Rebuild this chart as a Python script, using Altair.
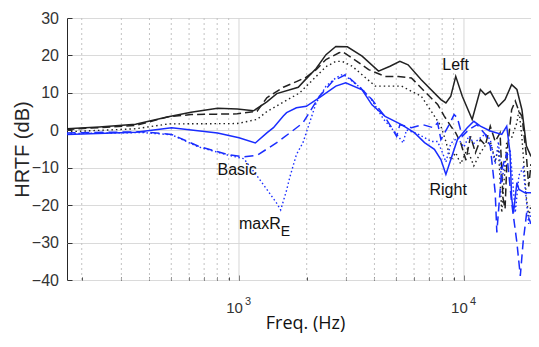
import altair as alt
import pandas as pd

# ---------------- data ----------------
left_solid_f = [171, 239, 347, 485, 612, 803, 983, 1160, 1330, 1472, 1834, 1992, 2203, 2436, 2695, 3032,
                3526, 4171, 4692, 5190, 5645, 6459, 7897, 8312, 8740, 9193, 9830, 10876, 11830, 12445,
                13090, 14235, 15230, 16290, 17190, 18100, 18950, 19860]
left_solid_db = [0.4, 0.9, 1.6, 3.6, 4.8, 5.9, 5.7, 5.2, 7.6, 9.8, 11.5, 13.8, 16.5, 20.2, 22.4, 22.3,
                 19.8, 15.8, 17.1, 18.4, 17.5, 13.5, 8.2, 7.3, 9.1, 14.4, 9.1, 2.9, 10.9, 9.5,
                 10.4, 6.4, 8.2, 12.2, 10.9, 5.5, -4.2, -7.0]

left_dashed_f = [171, 347, 485, 612, 983, 1203, 1330, 1574, 1800, 1992, 2203, 2436, 2785, 2880, 3188,
                 3770, 4462, 5104, 5839, 6680, 7638, 8173, 8740, 9193, 9667, 10200, 10695, 11250,
                 11830, 12445, 13090, 13770, 14470, 14900, 15230, 15600, 16290, 16910, 17560, 18100,
                 18950, 19400, 19860]
left_dashed_db = [0.2, 1.3, 3.6, 4.2, 4.4, 5.1, 8.7, 11.5, 13.0, 14.2, 16.2, 18.9, 20.7, 21.0, 19.3,
                  16.2, 14.4, 14.4, 14.0, 10.4, 6.9, 3.8, 1.1, -0.7, -3.3, -8.0, -1.6, -6.0,
                  -2.5, -4.0, 1.1, -3.0, -0.7, -18.0, -21.0, -5.0, 5.5, 7.8, 5.0, 3.8,
                  -6.9, -15.0, -9.0]

left_dotted_f = [171, 347, 485, 983, 1203, 1330, 1861, 2436, 2695, 2880, 3188, 4034, 5277, 6459, 7389,
                 7897, 8312, 8740, 9193, 9667, 10340, 11060, 11830, 12445, 13090, 13770, 14235, 14720,
                 15230, 15490, 16290, 17190, 17560, 18100, 18950, 19400, 19860]
left_dotted_db = [-0.4, 0.4, 1.7, 1.8, 2.9, 5.0, 10.0, 17.0, 18.4, 18.4, 17.1, 11.8, 11.8, 9.1, 3.8,
                  1.1, -3.0, -8.0, -6.0, -9.0, -5.0, -9.5, -6.0, -4.0, -3.0, -8.0, -5.0, -22.0,
                  -10.0, -3.0, -2.0, 2.0, 5.5, -2.0, -18.0, -23.0, -20.0]

right_solid_f = [171, 347, 502, 803, 1000, 1182, 1330, 1423, 1574, 1628, 1800, 1992, 2277, 2695, 2981,
                 3526, 3900, 4462, 5277, 6039, 6680, 7389, 7897, 8312, 8740, 9350, 10340, 11060,
                 11830, 13090, 14720, 15490, 16020, 16290, 16600, 17190, 17560, 18660, 19860]
right_solid_db = [-1.1, -0.5, 0.7, -0.7, -2.0, -3.4, -0.7, 0.7, 3.8, 4.7, 6.0, 6.4, 8.7, 11.8, 12.7,
                  10.8, 6.8, 3.7, 1.5, -0.7, -3.3, -5.1, -7.8, -11.8, -7.8, -2.5, 0.7, 2.4,
                  1.1, -0.2, -1.1, 1.1, -6.0, -18.0, -22.0, -14.0, -15.8, -16.7, -16.7]

right_dashed_f = [171, 371, 502, 657, 889, 1052, 1203, 1472, 1683, 1925, 2277, 2608, 2880, 2981, 3526,
                  3900, 4387, 4770, 5020, 5190, 5839, 6565, 7288, 7638, 7897, 8596, 9040, 9350, 9830,
                  10518, 11437, 12445, 13090, 13770, 14000, 14720, 15490, 16290, 17190, 17800, 18315,
                  19000, 19860]
right_dashed_db = [-0.7, -0.4, -1.1, -4.2, -6.5, -7.1, -6.7, -3.3, -0.7, 2.0, 9.1, 13.1, 14.4, 14.9, 10.9,
                   8.2, 4.2, 0.7, -1.6, 1.5, 0.7, 1.5, 0.7, 2.0, -2.5, 1.5, 4.2, 3.3, -1.6,
                   0.2, 1.5, -1.1, -4.2, -16.7, -27.3, -10.5, -6.0, -19.3, -30.0, -38.9, -30.0,
                   -22.0, -25.0]

right_dotted_f = [171, 371, 502, 657, 889, 1052, 1203, 1330, 1472, 1532, 1628, 1683, 1800, 1925, 2203,
                  2436, 2695, 2880, 2981, 3526, 3900, 4387, 4614, 5020, 5366, 5550, 6245, 7166, 7638,
                  8030, 8312, 8740, 9350, 10000, 10518, 11060, 11830, 12445, 13090, 13770, 14235,
                  14720, 15230, 16020, 16910, 17560, 18315, 19400, 19860]
right_dotted_db = [-0.9, -0.6, -1.2, -4.4, -6.6, -7.6, -12.2, -15.8, -19.5, -21.3, -16.0, -12.5, -6.5, -3.3, 7.3,
                   11.8, 14.0, 14.9, 14.5, 11.0, 8.0, 3.0, 1.5, -1.0, -3.4, 0.1, -1.0, -3.0, -3.0,
                   -6.0, -8.5, -3.5, -2.0, -4.5, -1.5, -3.5, -2.0, -1.0, -2.5, -9.0, -3.0,
                   -14.0, -8.0, -5.0, -22.0, -12.0, -10.0, -25.0, -22.0]

minor_ticks = [200, 300, 400, 500, 600, 700, 800, 900, 2000, 3000, 4000, 5000, 6000, 7000, 8000, 9000]
major_ticks = [1000, 10000]
y_ticks = [-40, -30, -20, -10, 0, 10, 20, 30]

ann_text = ["Left", "Right", "Basic", "maxR"]
ann_f = [8010, 7026, 803, 1000]
ann_db = [16.0, -17.2, -12.0, -26.5]
sub_text = ["E"]
sub_f = [1532]
sub_db = [-28.2]

# ---------------- chart ----------------
xscale = alt.Scale(type="log", domain=[172, 19860], nice=False)
yscale = alt.Scale(domain=[-40, 30], nice=False, zero=False)

BLACK = "#222222"
BLUE = "#1a2dff"


def series(fs, dbs, color, dash=None, width=1.4):
    df = pd.DataFrame({"f": fs, "db": dbs})
    kw = dict(color=color, strokeWidth=width, clip=True)
    if dash:
        kw["strokeDash"] = dash
    return alt.Chart(df).mark_line(**kw).encode(
        x=alt.X("f:Q", scale=xscale, axis=None),
        y=alt.Y("db:Q", scale=yscale, axis=None),
    )


minor_grid = alt.Chart(pd.DataFrame({"f": minor_ticks})).mark_rule(
    color="#c2c2c2", strokeWidth=1, strokeDash=[2, 3]
).encode(
    x=alt.X("f:Q", scale=xscale,
            axis=alt.Axis(values=minor_ticks, orient="bottom", offset=-3, tickSize=3,
                          ticks=True, tickColor="#333333", labels=False, domain=False,
                          grid=False, title=None))
)

major_grid = alt.Chart(pd.DataFrame({"f": major_ticks})).mark_rule(
    color="#d6d6d6", strokeWidth=1
).encode(
    x=alt.X("f:Q", scale=xscale,
            axis=alt.Axis(values=major_ticks, orient="bottom", offset=-5, tickSize=5,
                          ticks=True, tickColor="#333333", labels=False, domain=False,
                          grid=False, title=None))
)

axes_df = pd.DataFrame({"f": major_ticks, "db": [-40, 30]})
main_axes = alt.Chart(axes_df).mark_point(opacity=0).encode(
    x=alt.X("f:Q", scale=xscale,
            axis=alt.Axis(values=major_ticks, orient="bottom", labelExpr="'10'",
                          labelFont="Liberation Sans",
                          labelFontSize=15, labelColor="#333333", labelPadding=20, labelOffset=-5,
                          labelBaseline="top", ticks=False, tickSize=0, domain=False, grid=False,
                          title="Freq. (Hz)", titleFont="Open Sans", titleFontSize=18,
                          titleFontWeight="normal", titleColor="#111111", titleX=238, titleY=48,
                          titleAlign="center", titleBaseline="alphabetic")),
    y=alt.Y("db:Q", scale=yscale,
            axis=alt.Axis(values=y_ticks, orient="left", labelFont="Liberation Sans",
                          labelFontSize=16,
                          labelColor="#333333", labelPadding=8.5, ticks=False, tickSize=0,
                          domain=False, grid=True, gridColor="#dadada", gridWidth=1,
                          title="HRTF (dB)", titleFont="Liberation Sans", titleFontSize=20,
                          titleFontWeight="normal", titleColor="#262626", titleAngle=270,
                          titleX=-45, titleY=131, titleAlign="center", titleBaseline="middle")),
)

sup_axes = alt.Chart(axes_df).mark_point(opacity=0).encode(
    x=alt.X("f:Q", scale=xscale,
            axis=alt.Axis(values=major_ticks, orient="bottom",
                          labelExpr="datum.value < 5000 ? '3' : '4'",
                          labelFont="Liberation Sans", labelFontSize=11, labelColor="#333333",
                          labelPadding=15, labelOffset=8.5, labelBaseline="top", ticks=False,
                          tickSize=0, domain=False, grid=False, title=None)),
    y=alt.Y("db:Q", scale=yscale,
            axis=alt.Axis(values=y_ticks, orient="left", offset=-5, tickSize=5, ticks=True,
                          tickColor="#333333", labels=False, domain=False, grid=False, title=None)),
)

ann = alt.Chart(pd.DataFrame({"t": ann_text, "f": ann_f, "db": ann_db})).mark_text(
    align="left", baseline="alphabetic", font="Liberation Sans", fontSize=16, color="#111111"
).encode(
    x=alt.X("f:Q", scale=xscale, axis=None),
    y=alt.Y("db:Q", scale=yscale, axis=None),
    text="t:N",
)
sub = alt.Chart(pd.DataFrame({"t": sub_text, "f": sub_f, "db": sub_db})).mark_text(
    align="left", baseline="alphabetic", font="Liberation Sans", fontSize=14, color="#111111"
).encode(
    x=alt.X("f:Q", scale=xscale, axis=None),
    y=alt.Y("db:Q", scale=yscale, axis=None),
    text="t:N",
)

lines = [
    series(left_solid_f, left_solid_db, BLACK, None, 1.5),
    series(left_dashed_f, left_dashed_db, BLACK, [8, 4], 1.5),
    series(left_dotted_f, left_dotted_db, BLACK, [1.5, 3], 1.4),
    series(right_solid_f, right_solid_db, BLUE, None, 1.5),
    series(right_dashed_f, right_dashed_db, BLUE, [9, 5], 1.5),
    series(right_dotted_f, right_dotted_db, BLUE, [1.5, 2.5], 1.4),
]

chart = alt.layer(
    minor_grid, major_grid, main_axes, sup_axes, *lines, ann, sub
).resolve_axis(
    x="independent", y="independent"
).properties(
    width=464, height=262,
    autosize=alt.AutoSizeParams(type="none"),
    padding={"left": 59, "top": 10, "right": 0, "bottom": 55},
    background="white",
).configure_view(
    stroke="#262626", strokeWidth=1
)

chart.save("out.html", embed_options={"renderer": "svg", "actions": False})
